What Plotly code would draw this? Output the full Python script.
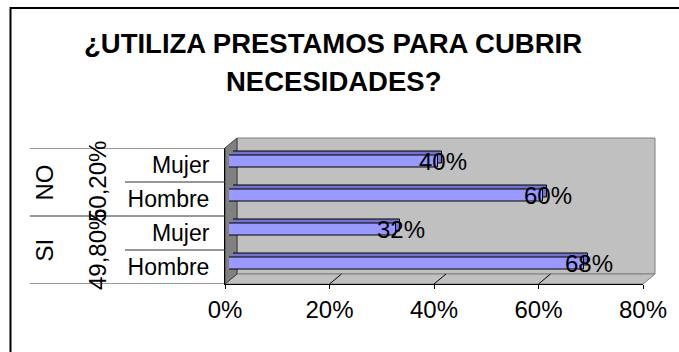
import plotly.graph_objects as go

# ---- data -------------------------------------------------------------
categories = ["Hombre", "Mujer", "Hombre", "Mujer"]   # bottom to top
answer = ["SI", "SI", "NO", "NO"]
values = [0.68, 0.32, 0.60, 0.40]
answer_labels = ["SI", "NO"]
answer_shares = ["49,80%", "50,20%"]
x_ticks = [0, 0.2, 0.4, 0.6, 0.8]
x_ticktext = ["0%", "20%", "40%", "60%", "80%"]
title_lines = ["¿UTILIZA PRESTAMOS PARA CUBRIR", "NECESIDADES?"]

# ---- geometry (pixels) ------------------------------------------------
W, H = 679, 352
FX0, FX1 = 225, 643          # front plane, x extent
FY0, FY1 = 148, 284          # front plane, y extent
DX, DY = 12, -10             # depth offset of back wall
FONT = "Liberation Sans, Arial, sans-serif"
XMAX = 0.8


def px(x):
    return x / W


def py(y):
    return 1 - y / H


def xdom(shift):
    return [px(FX0 + shift), px(FX1 + shift)]


def ydom(shift):
    return [py(FY1 + shift), py(FY0 + shift)]


positions = list(range(len(values)))

fig = go.Figure()

# bar depth face (darker, pushed back) then front face
fig.add_trace(go.Bar(
    x=values, y=positions, orientation="h", width=0.38,
    marker=dict(color="#7373CC", line=dict(color="black", width=1)),
    xaxis="x2", yaxis="y2", hoverinfo="skip", showlegend=False,
))
fig.add_trace(go.Bar(
    x=values, y=positions, orientation="h", width=0.38,
    marker=dict(color="#9999FF", line=dict(color="black", width=1)),
    xaxis="x3", yaxis="y3", showlegend=False,
    hovertext=[f"{a} {c}: {v:.0%}" for a, c, v in zip(answer, categories, values)],
    hoverinfo="text",
))

common = dict(range=[0, XMAX], showticklabels=False, zeroline=False,
              showline=False, fixedrange=True, automargin=False)
commony = dict(range=[-0.5, len(values) - 0.5], showticklabels=False,
               zeroline=False, showline=False, showgrid=False, fixedrange=True,
               automargin=False)

shapes = []
# back wall
shapes.append(dict(type="rect", xref="paper", yref="paper",
                   x0=px(FX0 + DX), x1=px(FX1 + DX), y0=py(FY1 + DY), y1=py(FY0 + DY),
                   fillcolor="#C0C0C0", line=dict(color="#808080", width=1), layer="below"))
# floor
shapes.append(dict(type="path", xref="paper", yref="paper",
                   path=f"M{px(FX0)},{py(FY1)} L{px(FX0 + DX)},{py(FY1 + DY)} "
                        f"L{px(FX1 + DX)},{py(FY1 + DY)} L{px(FX1)},{py(FY1)} Z",
                   fillcolor="#C0C0C0", line=dict(color="#808080", width=1), layer="below"))
# left side wall
shapes.append(dict(type="path", xref="paper", yref="paper",
                   path=f"M{px(FX0)},{py(FY1)} L{px(FX0 + DX)},{py(FY1 + DY)} "
                        f"L{px(FX0 + DX)},{py(FY0 + DY)} L{px(FX0)},{py(FY0)} Z",
                   fillcolor="#808080", line=dict(color="#404040", width=1), layer="below"))
# floor grid lines
for t in x_ticks[1:-1]:
    xf = FX0 + (FX1 - FX0) * t / XMAX
    shapes.append(dict(type="line", xref="paper", yref="paper",
                       x0=px(xf), y0=py(FY1), x1=px(xf + DX), y1=py(FY1 + DY),
                       line=dict(color="black", width=1), layer="below"))
# category separators on the left
for i in range(len(values) + 1):
    b = i - 0.5
    full = i % 2 == 0
    shapes.append(dict(type="line", xref="paper", yref="y4",
                       x0=px(30 if full else 125), x1=px(FX0), y0=b, y1=b,
                       line=dict(color="#303030", width=1)))
# outer frame
shapes.append(dict(type="rect", xref="paper", yref="paper",
                   x0=px(10.5), x1=px(W + 20), y0=py(H + 20), y1=py(8),
                   line=dict(color="black", width=2)))

annotations = []
# title
for line, yc in zip(title_lines, [43, 81]):
    annotations.append(dict(text=f"<b>{line}</b>", x=px(333), y=py(yc),
                            xref="paper", yref="paper", showarrow=False,
                            xanchor="center", yanchor="middle",
                            font=dict(family=FONT, size=27.5, color="black")))
# value labels at bar ends
for v, p in zip(values, positions):
    annotations.append(dict(text=f"{v:.0%}", x=v, y=p, xref="x3", yref="y3",
                            xshift=5, showarrow=False, xanchor="center",
                            yanchor="middle",
                            font=dict(family=FONT, size=24, color="black")))
# group labels (answer and its share)
for g, share in zip(answer_labels, answer_shares):
    ps = [p for p, a in zip(positions, answer) if a == g]
    yc = sum(ps) / len(ps)
    annotations.append(dict(text=g, x=px(43.5), y=yc, xref="paper", yref="y4",
                            textangle=-90, showarrow=False,
                            xanchor="center", yanchor="middle",
                            font=dict(family=FONT, size=24, color="black")))
    annotations.append(dict(text=share, x=px(97), y=yc, xref="paper", yref="y4",
                            textangle=-90, showarrow=False,
                            xanchor="center", yanchor="middle",
                            font=dict(family=FONT, size=24, color="black")))

fig.update_layout(
    template="none",
    width=W, height=H, autosize=False,
    margin=dict(l=0, r=0, t=0, b=0, pad=0),
    paper_bgcolor="white", plot_bgcolor="rgba(0,0,0,0)",
    showlegend=False, bargap=0,
    # back wall grid
    xaxis=dict(domain=xdom(DX), anchor="y", tickvals=x_ticks[1:-1], showgrid=True,
               gridcolor="black", gridwidth=1, **common),
    yaxis=dict(domain=ydom(DY), anchor="x", **commony),
    # bar depth face
    xaxis2=dict(domain=xdom(8), anchor="y2", showgrid=False, **common),
    yaxis2=dict(domain=ydom(-7.5), anchor="x2", **commony),
    # bar front face
    xaxis3=dict(domain=xdom(4), anchor="y3", showgrid=False, **common),
    yaxis3=dict(domain=ydom(-3.5), anchor="x3", **commony),
    # front axes with labels
    xaxis4=dict(domain=xdom(0), anchor="y4", range=[0, XMAX], tickvals=x_ticks,
                ticktext=x_ticktext, showgrid=False, zeroline=False,
                showline=True, linecolor="black", linewidth=1,
                ticks="outside", ticklen=4, tickcolor="black", automargin=False,
                tickfont=dict(family=FONT, size=24, color="black"), fixedrange=True),
    yaxis4=dict(domain=ydom(0), anchor="x4", range=[-0.5, len(values) - 0.5],
                tickvals=positions, ticktext=categories, showgrid=False,
                zeroline=False, showline=True, linecolor="black", linewidth=1,
                ticks="", ticklabelstandoff=10, automargin=False,
                tickfont=dict(family=FONT, size=23, color="black"), fixedrange=True),
    shapes=shapes,
    annotations=annotations,
)

fig.write_html("out.html")
